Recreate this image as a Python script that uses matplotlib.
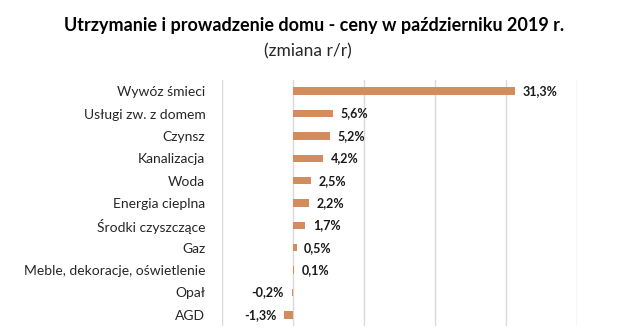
import matplotlib
matplotlib.use("Agg")
import matplotlib.pyplot as plt
from matplotlib.ticker import MultipleLocator

categories = ["Wywóz śmieci", "Usługi zw. z domem", "Czynsz", "Kanalizacja", "Woda",
              "Energia cieplna", "Środki czyszczące", "Gaz",
              "Meble, dekoracje, oświetlenie", "Opał", "AGD"]
values = [31.3, 5.6, 5.2, 4.2, 2.5, 2.2, 1.7, 0.5, 0.1, -0.2, -1.3]

title = "Utrzymanie i prowadzenie domu - ceny w październiku 2019 r."
subtitle = "(zmiana r/r)"

plt.rcParams['font.family'] = ['Lato', 'DejaVu Sans']

fig = plt.figure(figsize=(6.24, 3.29), dpi=100)
ax = fig.add_axes([222/624, 1-326/329, (577-222)/624, (326-80)/329])

bar_color = "#D28C5E"
y = list(range(len(categories)))
ax.barh(y, values, height=0.33, color=bar_color, zorder=3)
ax.set_ylim(len(categories)-0.5, -0.5)
ax.set_xlim(-10, 40)
ax.xaxis.set_major_locator(MultipleLocator(10))
ax.grid(axis='x', color='#d9d9d9', linewidth=1, zorder=0)
ax.set_yticks(y)
ax.set_yticklabels(categories, fontsize=10, color='#262626')
ax.tick_params(axis='y', length=0, pad=12)
ax.tick_params(axis='x', length=0, labelbottom=False)
for s in ax.spines.values():
    s.set_visible(False)

for yi, v in zip(y, values):
    txt = f"{v:.1f}".replace('.', ',') + "%"
    if v >= 0:
        ax.annotate(txt, (v, yi), xytext=(5.5, 0), textcoords='offset points',
                    ha='left', va='center', fontsize=9, fontweight='bold', color='#1a1a1a')
    else:
        ax.annotate(txt, (v, yi), xytext=(-5.5, 0), textcoords='offset points',
                    ha='right', va='center', fontsize=9, fontweight='bold', color='#1a1a1a')

fig.text(314/624, 1-25/329, title, ha='center', va='center', fontsize=13, fontweight='bold', color='#000000')
fig.text(308/624, 1-51/329, subtitle, ha='center', va='center', fontsize=12.5, color='#262626')

fig.savefig("out.png", dpi=100)
